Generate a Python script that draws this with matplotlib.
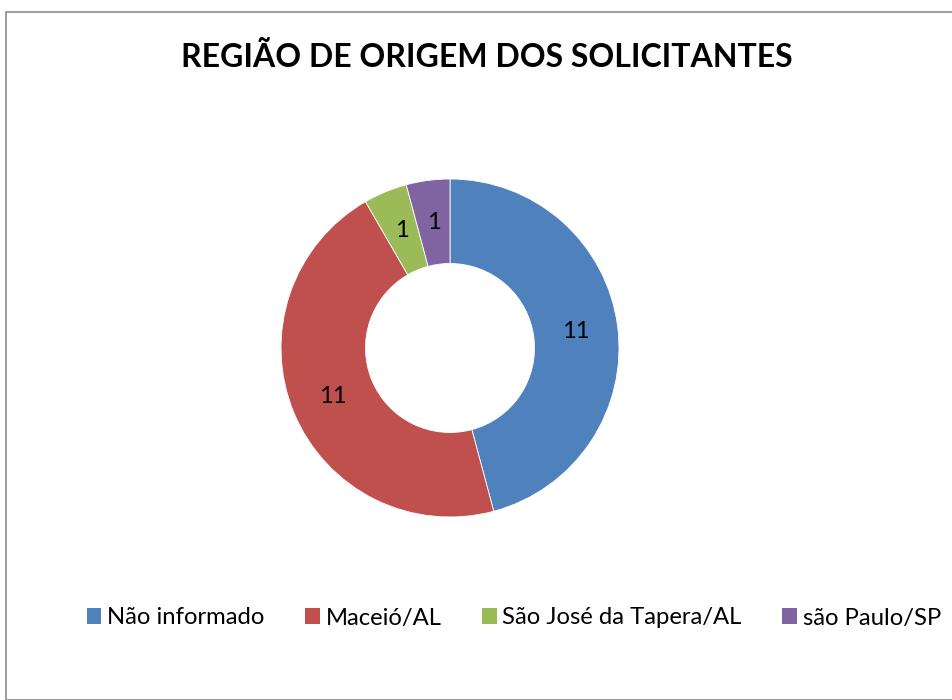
import matplotlib
matplotlib.use('Agg')
import matplotlib.pyplot as plt
from matplotlib.patches import Rectangle, Patch
import numpy as np

plt.rcParams['font.family'] = ['Lato', 'DejaVu Sans']

categories = ['Não informado', 'Maceió/AL', 'São José da Tapera/AL', 'são Paulo/SP']
values = [11, 11, 1, 1]
colors = ['#4F81BD', '#C0504D', '#9BBB59', '#8064A2']

fig = plt.figure(figsize=(9.53, 7.0), dpi=100)

# outer chart border (Excel style)
fig.patches.append(Rectangle((6/953, 0), 1.2, 1 - 12/700, transform=fig.transFigure,
                             fill=False, edgecolor='#8c8c8c', lw=1.2))

fig.text(487/953, 1 - 57/700, 'REGIÃO DE ORIGEM DOS SOLICITANTES', ha='center', va='center',
         fontsize=23, fontweight='bold', color='black')

ax = fig.add_axes([281/953, 183/700, 338/953, 338/700])
wedges, _ = ax.pie(values, colors=colors, startangle=90, counterclock=False, radius=1,
                   wedgeprops=dict(width=0.5, edgecolor='white', linewidth=0.6))
for w, v in zip(wedges, values):
    ang = np.deg2rad((w.theta1 + w.theta2) / 2)
    ax.text(0.75 * np.cos(ang), 0.75 * np.sin(ang), str(v), ha='center', va='center',
            fontsize=17, color='black')
ax.set_xlim(-1, 1); ax.set_ylim(-1, 1); ax.set_aspect('equal')
ax.axis('off')

handles = [Patch(facecolor=c, edgecolor='none') for c in colors]
fig.legend(handles, categories, loc='center', bbox_to_anchor=(514/953, 1 - 618/700), ncol=4,
           frameon=False, fontsize=17.2, handlelength=0.6, handleheight=0.6, handletextpad=0.25,
           columnspacing=1.7, borderpad=0.2)

fig.savefig('out.png', dpi=100)
